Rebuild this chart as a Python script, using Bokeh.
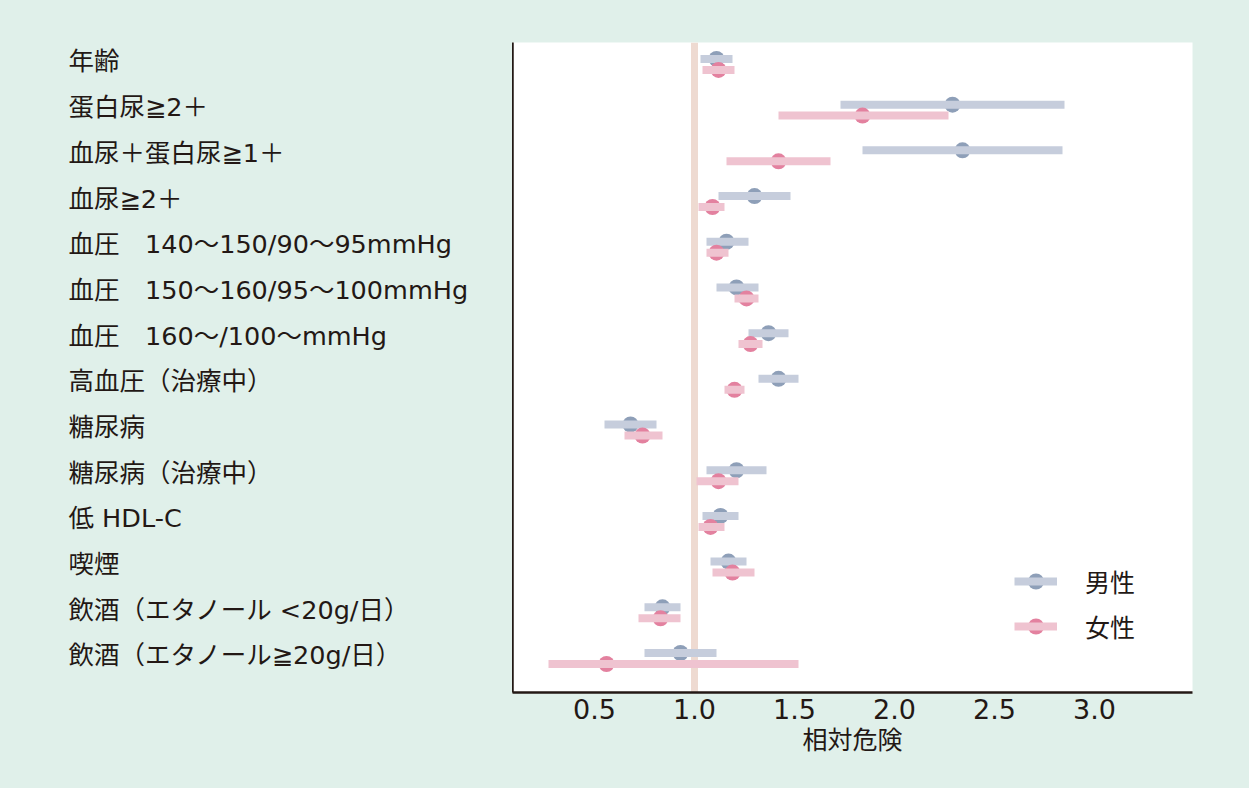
from bokeh.plotting import figure
from bokeh.layouts import row
from bokeh.models import (Range1d, FixedTicker, Span, Legend, LegendItem,
                          ColumnDataSource, PrintfTickFormatter)
from bokeh.core.properties import value
from bokeh.embed import file_html
from bokeh.resources import INLINE

# ---------------- data ----------------
categories = [
    "年齢",
    "蛋白尿≧2＋",
    "血尿＋蛋白尿≧1＋",
    "血尿≧2＋",
    "血圧　140〜150/90〜95mmHg",
    "血圧　150〜160/95〜100mmHg",
    "血圧　160〜/100〜mmHg",
    "高血圧（治療中）",
    "糖尿病",
    "糖尿病（治療中）",
    "低 HDL-C",
    "喫煙",
    "飲酒（エタノール <20g/日）",
    "飲酒（エタノール≧20g/日）",
]
male_rr = [1.11, 2.29, 2.34, 1.30, 1.16, 1.21, 1.37, 1.42, 0.68, 1.21, 1.13, 1.17, 0.84, 0.93]
male_lo = [1.03, 1.73, 1.84, 1.12, 1.06, 1.11, 1.27, 1.32, 0.55, 1.06, 1.04, 1.08, 0.75, 0.75]
male_hi = [1.19, 2.85, 2.84, 1.48, 1.27, 1.32, 1.47, 1.52, 0.81, 1.36, 1.22, 1.26, 0.93, 1.11]
female_rr = [1.12, 1.84, 1.42, 1.09, 1.11, 1.26, 1.28, 1.20, 0.74, 1.12, 1.08, 1.19, 0.83, 0.56]
female_lo = [1.04, 1.42, 1.16, 1.02, 1.06, 1.20, 1.22, 1.15, 0.65, 1.01, 1.02, 1.09, 0.72, 0.27]
female_hi = [1.20, 2.27, 1.68, 1.15, 1.17, 1.32, 1.34, 1.25, 0.84, 1.22, 1.15, 1.30, 0.93, 1.52]
series_names = ["男性", "女性"]
x_ticks = [0.5, 1.0, 1.5, 2.0, 2.5, 3.0]
x_title = "相対危険"
reference_value = 1.0

# ---------------- style ----------------
BG = "#E0F0EA"
TXT = "#231815"
MALE_DOT, MALE_BAR = "#8E9FB8", "#C6CDDC"
FEM_DOT, FEM_BAR = "#E3819F", "#EFC3D0"
REF = "#EEDAD1"
LATIN_CJK = "DejaVu Sans, Noto Sans CJK JP"
CJK = "Noto Sans CJK JP"
TOP, BOTTOM = 42, 96

n = len(categories)
off = 0.12
y_range = Range1d(-13.744, 0.48)
src_m = ColumnDataSource(dict(
    y=[-i + off for i in range(n)], rr=male_rr, lo=male_lo, hi=male_hi))
src_f = ColumnDataSource(dict(
    y=[-i - off for i in range(n)], rr=female_rr, lo=female_lo, hi=female_hi))
src_lab = ColumnDataSource(dict(
    y=[-i + 0.066 for i in range(n)], x=[68] * n, text=categories))

# ---------- left panel with category labels ----------
pl = figure(width=512, height=788, x_range=Range1d(0, 512), y_range=y_range,
            output_backend="svg", toolbar_location=None,
            x_axis_location=None, y_axis_location=None,
            min_border_left=0, min_border_right=0,
            min_border_top=TOP, min_border_bottom=BOTTOM,
            background_fill_color=BG, border_fill_color=BG,
            outline_line_color=None)
pl.grid.visible = False
pl.text("x", "y", text="text", source=src_lab,
        text_font=value(LATIN_CJK), text_font_size=value("25.5px"),
        text_color=TXT, text_align="left", text_baseline="middle")

# ---------- main plot ----------
p = figure(width=737, height=788,
           x_range=Range1d(0.09, 3.49), y_range=y_range,
           output_backend="svg", toolbar_location=None,
           min_border_left=0, min_border_right=57,
           min_border_top=TOP, min_border_bottom=BOTTOM,
           background_fill_color="white", border_fill_color=BG,
           outline_line_color=None)
p.grid.visible = False

p.add_layout(Span(location=reference_value, dimension="height",
                  line_color=REF, line_width=7, level="underlay"))

r_mc = p.scatter("rr", "y", source=src_m, marker="circle", size=16,
                 fill_color=MALE_DOT, line_color=None)
r_ms = p.segment("lo", "y", "hi", "y", source=src_m, line_color=MALE_BAR,
                 line_width=8, line_cap="butt")
r_fc = p.scatter("rr", "y", source=src_f, marker="circle", size=16,
                 fill_color=FEM_DOT, line_color=None)
r_fs = p.segment("lo", "y", "hi", "y", source=src_f, line_color=FEM_BAR,
                 line_width=8, line_cap="butt")

xa = p.xaxis[0]
xa.ticker = FixedTicker(ticks=x_ticks)
xa.formatter = PrintfTickFormatter(format="%.1f")
xa.major_tick_line_color = None
xa.minor_tick_line_color = None
xa.axis_line_color = TXT
xa.axis_line_width = 2.5
xa.major_label_text_font = "DejaVu Sans"
xa.major_label_text_font_size = "27px"
xa.major_label_text_color = TXT
xa.major_label_standoff = 0
xa.axis_label = x_title
xa.axis_label_text_font = CJK
xa.axis_label_text_font_size = "25px"
xa.axis_label_text_font_style = "normal"
xa.axis_label_text_color = TXT
xa.axis_label_standoff = -2

ya = p.yaxis[0]
ya.ticker = FixedTicker(ticks=[])
ya.major_tick_line_color = None
ya.minor_tick_line_color = None
ya.major_label_text_font_size = "0px"
ya.axis_line_color = TXT
ya.axis_line_width = 2.5

legend = Legend(items=[
    LegendItem(label=series_names[0], renderers=[r_mc, r_ms]),
    LegendItem(label=series_names[1], renderers=[r_fc, r_fs]),
], location=(502, 46), glyph_width=43, glyph_height=40, label_height=40,
    spacing=5, padding=0, margin=0, label_standoff=28,
    label_text_font=CJK, label_text_font_size="25px", label_text_color=TXT,
    border_line_color=None, background_fill_alpha=0)
p.add_layout(legend)

layout = row(pl, p, styles={"background-color": BG})
open("out.html", "w").write(file_html(layout, INLINE))
